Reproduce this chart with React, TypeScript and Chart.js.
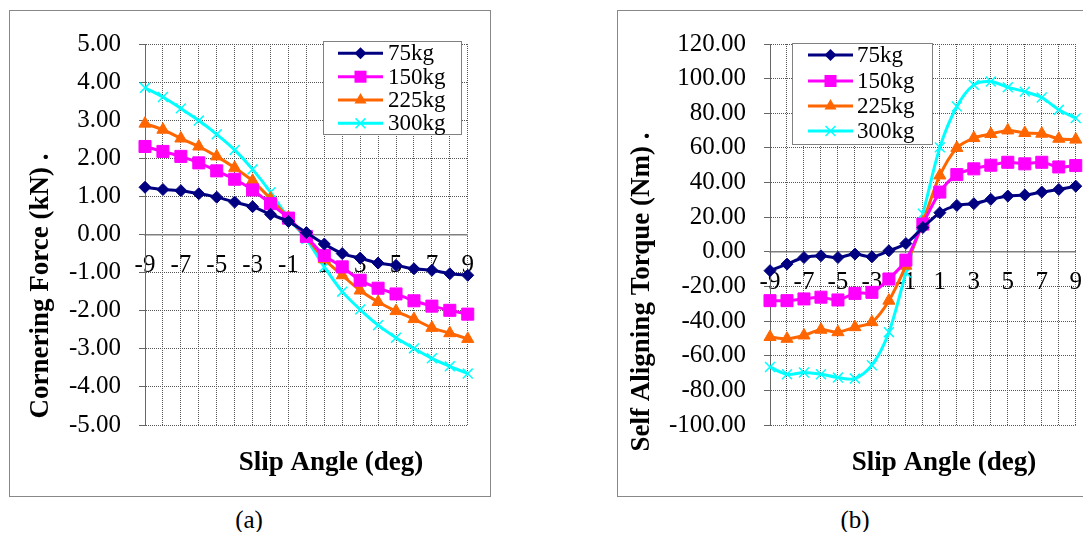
import React, { useEffect, useRef } from 'react';
import { Chart, registerables } from 'chart.js';

Chart.register(...registerables);

// ---------- data ----------
const slipAngles = ['-9', '-8', '-7', '-6', '-5', '-4', '-3', '-2', '-1', '0', '1', '2', '3', '4', '5', '6', '7', '8', '9'];
const seriesNames = ['75kg', '150kg', '225kg', '300kg'];

// (a) Cornering Force (kN)
const force75 = [1.24, 1.18, 1.15, 1.07, 0.98, 0.85, 0.73, 0.53, 0.34, 0.05, -0.25, -0.5, -0.62, -0.75, -0.81, -0.9, -0.94, -1.03, -1.07];
const force150 = [2.31, 2.18, 2.05, 1.88, 1.67, 1.45, 1.17, 0.81, 0.43, -0.05, -0.55, -0.85, -1.2, -1.41, -1.56, -1.74, -1.88, -1.99, -2.09];
const force225 = [2.91, 2.75, 2.52, 2.31, 2.05, 1.75, 1.41, 0.94, 0.44, -0.08, -0.65, -1.07, -1.47, -1.77, -2.01, -2.22, -2.45, -2.59, -2.74];
const force300 = [3.85, 3.61, 3.31, 2.99, 2.63, 2.22, 1.71, 1.11, 0.43, -0.12, -0.85, -1.5, -1.97, -2.38, -2.71, -2.99, -3.25, -3.46, -3.65];

// (b) Self Aligning Torque (Nm)
const torque75 = [-10.9, -7.1, -3.3, -2.3, -3.3, -1.3, -2.9, 0.6, 4.8, 14, 22.6, 26.8, 27.8, 30.3, 32.2, 32.8, 34.5, 36, 37.9];
const torque150 = [-28.2, -28.2, -27.2, -26.2, -27.8, -24, -23.4, -15.7, -4.8, 16, 34.5, 44.6, 47.9, 50, 51.7, 50.8, 51.7, 49, 49.8];
const torque225 = [-49.2, -50.2, -48.3, -45, -46.4, -43.5, -40.6, -28.2, -8, 17, 44.1, 60, 65.7, 68, 70.1, 68.6, 68.2, 65.3, 64.8];
const torque300 = [-66.5, -70.7, -69.7, -70.7, -72.6, -73.2, -65.5, -46.4, -12, 22, 60.3, 83.9, 96.4, 98.3, 95, 92.5, 89.1, 82, 77.2];

const forceTitle = 'Cornering Force (kN) .';
const torqueTitle = 'Self Aligning Torque (Nm) .';
const xTitle = 'Slip Angle (deg)';

// ---------- styles ----------
const colors = ['#000080', '#FF00FF', '#FF6600', '#00FFFF'];
const markers = ['rectRot', 'rect', 'triangle', 'crossRot'];
const markerRadius = [6, 8.5, 7, 7];
const SERIF = '"Liberation Serif", "Times New Roman", serif';
const GRID = '#555555';

function drawMarker(ctx: CanvasRenderingContext2D, style: string, x: number, y: number, r: number, color: string) {
  ctx.save();
  ctx.fillStyle = color;
  ctx.strokeStyle = color;
  ctx.lineWidth = 1;
  ctx.beginPath();
  if (style === 'rectRot') {
    ctx.moveTo(x - r, y);
    ctx.lineTo(x, y - r);
    ctx.lineTo(x + r, y);
    ctx.lineTo(x, y + r);
    ctx.closePath();
    ctx.fill();
  } else if (style === 'rect') {
    const s = r * Math.SQRT1_2;
    ctx.rect(x - s, y - s, 2 * s, 2 * s);
    ctx.fill();
  } else if (style === 'triangle') {
    ctx.moveTo(x, y - r);
    ctx.lineTo(x + r * 0.866, y + r * 0.5);
    ctx.lineTo(x - r * 0.866, y + r * 0.5);
    ctx.closePath();
    ctx.fill();
  } else {
    const d = r * Math.SQRT1_2;
    ctx.lineWidth = 1.5;
    ctx.moveTo(x - d, y - d);
    ctx.lineTo(x + d, y + d);
    ctx.moveTo(x + d, y - d);
    ctx.lineTo(x - d, y + d);
    ctx.stroke();
  }
  ctx.restore();
}

interface PanelSpec {
  series: number[][];
  yMin: number;
  yMax: number;
  yStep: number;
  yAxisWidth: number;
  padding: { left: number; top: number; right: number; bottom: number };
  yTitle: string;
  yTitlePos: [number, number];
  xTitlePos: [number, number];
  legendBox: [number, number, number, number];
  legendRows: number[];
  legendLine: [number, number];
  legendTextX: number;
}

function Panel({ spec, left }: { spec: PanelSpec; left: number }) {
  const ref = useRef<HTMLCanvasElement | null>(null);
  useEffect(() => {
    if (!ref.current) return;
    const overlay = {
      id: 'overlay',
      afterDraw(chart: any) {
        const ctx: CanvasRenderingContext2D = chart.ctx;
        ctx.save();
        ctx.fillStyle = '#000';
        ctx.font = `bold 27px ${SERIF}`;
        ctx.textAlign = 'center';
        ctx.textBaseline = 'middle';
        ctx.save();
        ctx.translate(spec.yTitlePos[0], spec.yTitlePos[1]);
        ctx.rotate(-Math.PI / 2);
        ctx.fillText(spec.yTitle, 0, 0);
        ctx.restore();
        ctx.fillText(xTitle, spec.xTitlePos[0], spec.xTitlePos[1]);
        const [lx1, ly1, lx2, ly2] = spec.legendBox;
        ctx.fillStyle = '#fff';
        ctx.fillRect(lx1, ly1, lx2 - lx1, ly2 - ly1);
        ctx.strokeStyle = '#808080';
        ctx.lineWidth = 1;
        ctx.strokeRect(lx1 + 0.5, ly1 + 0.5, lx2 - lx1, ly2 - ly1);
        ctx.font = `23px ${SERIF}`;
        ctx.textAlign = 'left';
        ctx.textBaseline = 'middle';
        seriesNames.forEach((name, i) => {
          const y = spec.legendRows[i];
          ctx.strokeStyle = colors[i];
          ctx.lineWidth = 3;
          ctx.beginPath();
          ctx.moveTo(spec.legendLine[0], y);
          ctx.lineTo(spec.legendLine[1], y);
          ctx.stroke();
          drawMarker(ctx, markers[i], (spec.legendLine[0] + spec.legendLine[1]) / 2, y, markerRadius[i], colors[i]);
          ctx.fillStyle = '#000';
          ctx.fillText(name, spec.legendTextX, y + 1);
        });
        ctx.restore();
      },
    };

    const chart = new Chart(ref.current, {
      type: 'line',
      data: {
        labels: slipAngles,
        datasets: spec.series.map((vals, i) => ({
          label: seriesNames[i],
          data: vals,
          borderColor: colors[i],
          backgroundColor: colors[i],
          borderWidth: 3,
          pointStyle: markers[i] as any,
          pointRadius: markerRadius[i],
          pointBorderWidth: i === 3 ? 1.5 : 1,
          pointBorderColor: colors[i],
          pointBackgroundColor: colors[i],
          tension: 0.3,
          fill: false,
        })),
      },
      options: {
        responsive: false,
        animation: false,
        events: [],
        layout: { padding: spec.padding },
        plugins: { legend: { display: false }, tooltip: { enabled: false }, title: { display: false } },
        scales: {
          x: {
            type: 'category',
            position: { y: 0 } as any,
            offset: false,
            ticks: {
              autoSkip: false,
              maxRotation: 0,
              minRotation: 0,
              padding: 16,
              color: '#000',
              font: { family: SERIF, size: 25 },
              callback: (_v: any, i: number) => (i % 2 === 0 ? slipAngles[i] : ''),
            },
            grid: { color: GRID, lineWidth: 1, drawTicks: false },
            border: { display: true, color: '#808080', width: 1.5, dash: [1, 1] },
          },
          y: {
            min: spec.yMin,
            max: spec.yMax,
            ticks: {
              stepSize: spec.yStep,
              padding: 18,
              color: '#000',
              font: { family: SERIF, size: 25 },
              callback: (v: any) => Number(v).toFixed(2),
            },
            grid: { color: GRID, lineWidth: 1, drawTicks: true, tickLength: 6, tickColor: '#666' },
            border: { display: true, color: '#666', width: 1, dash: [1, 1] },
            afterFit: (s: any) => {
              s.width = spec.yAxisWidth;
            },
          },
        },
      },
      plugins: [overlay],
    });
    return () => chart.destroy();
  }, [spec]);

  return (
    <div
      style={{
        position: 'absolute',
        left,
        top: 2,
        width: 480,
        height: 485,
        border: '1px solid #888',
        background: '#fff',
      }}
    >
      <canvas ref={ref} width={480} height={485} style={{ display: 'block' }} />
    </div>
  );
}

const leftSpec: PanelSpec = {
  series: [force75, force150, force225, force300],
  yMin: -5,
  yMax: 5,
  yStep: 1,
  yAxisWidth: 135,
  padding: { left: 0, top: 24, right: 20, bottom: 71 },
  yTitle: forceTitle,
  yTitlePos: [31, 275],
  xTitlePos: [321, 452],
  legendBox: [313, 30, 451, 123],
  legendRows: [42.3, 65.7, 89, 112.3],
  legendLine: [328, 373],
  legendTextX: 378,
};

const rightSpec: PanelSpec = {
  series: [torque75, torque150, torque225, torque300],
  yMin: -100,
  yMax: 120,
  yStep: 20,
  yAxisWidth: 152,
  padding: { left: 0, top: 31, right: 19, bottom: 71 },
  yTitle: torqueTitle,
  yTitlePos: [24.5, 281],
  xTitlePos: [326, 452],
  legendBox: [174, 32, 314, 133],
  legendRows: [44, 70, 95, 120],
  legendLine: [190, 235],
  legendTextX: 239,
};

export default function App() {
  const cap: React.CSSProperties = {
    position: 'absolute',
    top: 498,
    width: 60,
    textAlign: 'center',
    fontFamily: SERIF,
    fontSize: 25,
    lineHeight: '28px',
    color: '#000',
  };
  return (
    <div style={{ position: 'relative', width: 1083, height: 524, overflow: 'hidden', background: '#fff' }}>
      <Panel spec={leftSpec} left={1} />
      <Panel spec={rightSpec} left={609} />
      <div style={{ ...cap, left: 211 }}>(a)</div>
      <div style={{ ...cap, left: 817 }}>(b)</div>
    </div>
  );
}
